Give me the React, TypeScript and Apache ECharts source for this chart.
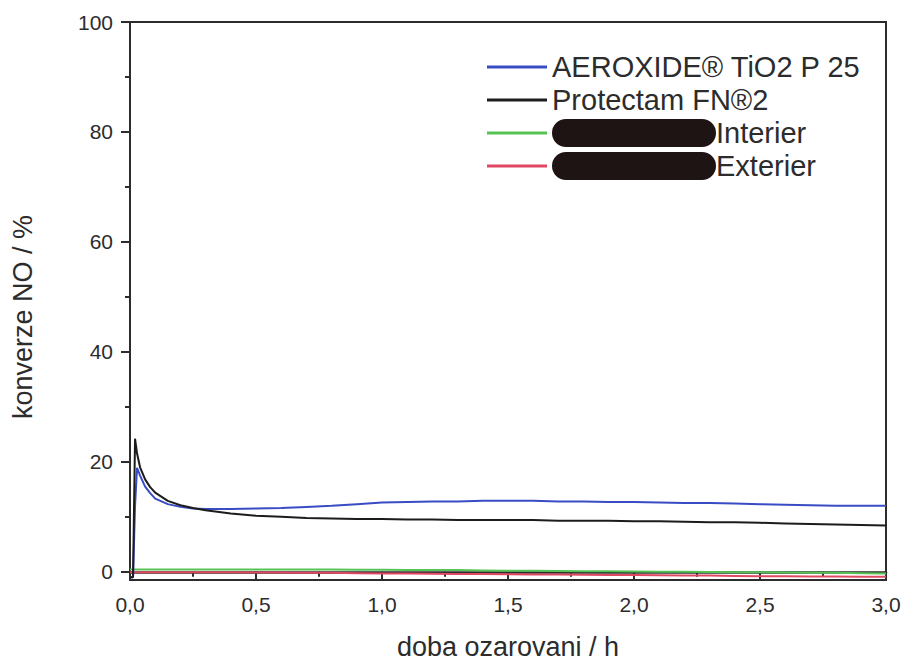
import React, { useEffect, useRef } from "react";
import * as echarts from "echarts";

const T = [0, 0.012, 0.02, 0.028, 0.04, 0.06, 0.08, 0.1, 0.15, 0.2, 0.25, 0.3, 0.4, 0.5, 0.6, 0.7, 0.8, 0.9, 1.0, 1.1, 1.2, 1.3, 1.4, 1.5, 1.6, 1.7, 1.8, 1.9, 2.0, 2.1, 2.2, 2.3, 2.4, 2.5, 2.6, 2.7, 2.8, 2.9, 3.0];

const aeroxide = [-1.0, -1.0, 12, 18.9, 17.5, 15.5, 14.3, 13.3, 12.3, 11.8, 11.5, 11.4, 11.4, 11.5, 11.6, 11.8, 12.0, 12.3, 12.6, 12.7, 12.8, 12.8, 12.9, 12.9, 12.9, 12.8, 12.8, 12.7, 12.7, 12.6, 12.5, 12.5, 12.4, 12.3, 12.2, 12.1, 12.0, 12.0, 12.0];

const protectam = [-1.0, -1.0, 24.2, 21.5, 19.0, 16.8, 15.4, 14.4, 12.9, 12.1, 11.6, 11.2, 10.6, 10.2, 10.0, 9.8, 9.7, 9.6, 9.6, 9.5, 9.5, 9.4, 9.4, 9.4, 9.4, 9.3, 9.3, 9.3, 9.2, 9.2, 9.1, 9.0, 9.0, 8.9, 8.8, 8.7, 8.6, 8.5, 8.4];

const interier = [0.4, 0.4, 0.4, 0.4, 0.4, 0.4, 0.4, 0.4, 0.4, 0.4, 0.4, 0.4, 0.4, 0.4, 0.4, 0.4, 0.4, 0.35, 0.35, 0.3, 0.3, 0.3, 0.25, 0.2, 0.2, 0.15, 0.1, 0.1, 0.05, 0.0, 0.0, -0.05, -0.1, -0.1, -0.15, -0.2, -0.2, -0.25, -0.3];

const exterier = [-0.1, -0.1, -0.1, -0.1, -0.1, -0.1, -0.1, -0.1, -0.1, -0.1, -0.1, -0.1, -0.1, -0.15, -0.15, -0.2, -0.2, -0.25, -0.3, -0.3, -0.35, -0.4, -0.4, -0.45, -0.5, -0.5, -0.55, -0.6, -0.6, -0.65, -0.7, -0.7, -0.75, -0.8, -0.8, -0.85, -0.85, -0.9, -0.9];

const seriesNames = ["AEROXIDE® TiO2 P 25", "Protectam FN®2", "Interier", "Exterier"];
const seriesColors = ["#3a4cc4", "#1c1c1c", "#55c455", "#e04862"];
const yMajorTicks = [0, 20, 40, 60, 80, 100];
const yMinorTicks = [10, 30, 50, 70, 90];
const xAxisTitle = "doba ozarovani / h";
const yAxisTitle = "konverze NO / %";

const FONT = "Liberation Sans, Arial, sans-serif";
const INK = "#2c2c2c";

export default function App() {
  const ref = useRef<HTMLDivElement>(null);

  useEffect(() => {
    if (!ref.current) return;
    const chart = echarts.init(ref.current, undefined, { renderer: "svg" });
    const allData = [aeroxide, protectam, interier, exterier];
    const series = allData.map((vals, i) => ({
      name: seriesNames[i],
      type: "line",
      data: T.map((t, k) => [t, vals[k]]),
      showSymbol: false,
      symbol: "none",
      lineStyle: { color: seriesColors[i], width: 2 },
      itemStyle: { color: seriesColors[i] },
      z: i < 2 ? 3 : 2,
    }));

    chart.setOption({
      animation: false,
      backgroundColor: "#ffffff",
      textStyle: { fontFamily: FONT },
      grid: {
        left: 130,
        right: 18,
        top: 22,
        bottom: 83,
        containLabel: false,
        outerBoundsMode: "none",
        show: true,
        borderColor: INK,
        borderWidth: 2,
        backgroundColor: "transparent",
      },
      legend: {
        orient: "vertical",
        left: 487,
        top: 52,
        padding: 0,
        itemGap: 3,
        itemWidth: 60,
        itemHeight: 3,
        icon: "rect",
        data: seriesNames,
        textStyle: {
          fontSize: 29,
          color: INK,
          fontFamily: FONT,
          lineHeight: 30,
          rich: {
            b: {
              width: 164,
              height: 28,
              backgroundColor: "#1e1414",
              borderRadius: 14,
            },
            t: { fontSize: 29, color: INK, fontFamily: FONT, lineHeight: 30 },
          },
        },
        formatter: (name: string) =>
          name === "Interier" || name === "Exterier" ? `{b|}{t|${name}}` : name,
      },
      graphic: [
        {
          type: "text",
          x: 23,
          y: 317,
          rotation: Math.PI / 2,
          style: {
            text: yAxisTitle,
            fontSize: 27,
            fontFamily: FONT,
            fill: INK,
            align: "center",
            verticalAlign: "middle",
          },
        },
      ],
      xAxis: {
        type: "value",
        min: 0,
        max: 3,
        interval: 0.5,
        name: xAxisTitle,
        nameLocation: "middle",
        nameGap: 53,
        nameTextStyle: { fontSize: 27, color: INK, fontFamily: FONT, lineHeight: 27 },
        axisLine: { show: true, lineStyle: { color: INK, width: 2.5 } },
        axisTick: { show: true, inside: false, length: 9, lineStyle: { color: INK, width: 2 } },
        minorTick: { show: true, splitNumber: 2, length: 5, lineStyle: { color: INK, width: 2 } },
        splitLine: { show: false },
        axisLabel: {
          fontSize: 21,
          color: INK,
          margin: 14,
          fontFamily: FONT,
          formatter: (v: number) => v.toFixed(1).replace(".", ","),
        },
      },
      yAxis: [
        {
          type: "value",
          min: -1.5,
          max: 100,
          position: "left",
          axisLine: { show: true, lineStyle: { color: INK, width: 2 } },
          axisTick: { show: true, inside: false, length: 9, customValues: yMajorTicks, lineStyle: { color: INK, width: 2 } },
          axisLabel: {
            fontSize: 21,
            color: INK,
            margin: 17,
            fontFamily: FONT,
            customValues: yMajorTicks,
          },
          splitLine: { show: false },
        },
        {
          type: "value",
          min: -1.5,
          max: 100,
          position: "left",
          axisLine: { show: false },
          axisTick: { show: true, inside: false, length: 5, customValues: yMinorTicks, lineStyle: { color: INK, width: 2 } },
          axisLabel: { show: false },
          splitLine: { show: false },
        },
      ],
      series,
    });

    return () => chart.dispose();
  }, []);

  return (
    <div
      ref={ref}
      style={{ position: "fixed", left: 0, top: 0, width: 904, height: 663 }}
    />
  );
}
